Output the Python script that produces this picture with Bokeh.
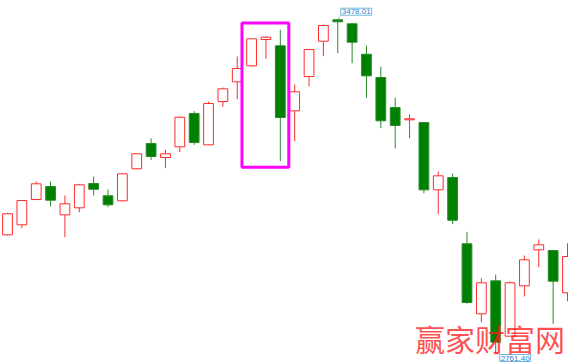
from bokeh.plotting import figure
from bokeh.models import Range1d, Label, BoxAnnotation
from bokeh.embed import file_html
from bokeh.resources import INLINE

# Daily OHLC values of the index, oldest first
opens = [3014.9, 3036.4, 3090.7, 3118.6, 3057.8, 3072.9, 3125.1, 3098.7, 3087.9, 3156.7,
         3211.0, 3180.9, 3203.9, 3275.4, 3208.2, 3301.2, 3343.5, 3377.9, 3434.4, 3420.9,
         3281.2, 3354.9, 3430.8, 3476.7, 3468.1, 3402.8, 3352.8, 3288.3, 3261.9, 3256.1,
         3111.5, 3138.0, 2995.6, 2845.2, 2916.1, 2797.1, 2905.3, 2982.7, 2981.2, 2890.3]
highs = [3062.1, 3089.5, 3129.4, 3129.4, 3099.3, 3124.4, 3140.1, 3112.2, 3148.1, 3189.5,
         3222.4, 3197.5, 3269.0, 3280.4, 3301.2, 3331.3, 3397.9, 3436.5, 3442.4, 3455.2,
         3337.7, 3414.4, 3466.6, 3478.01, 3469.4, 3421.5, 3375.8, 3309.8, 3273.3, 3256.1,
         3150.9, 3146.6, 3021.3, 2921.7, 2929.6, 2914.6, 2970.4, 3004.8, 2981.2, 2996.8]
lows = [3013.5, 3029.1, 3089.2, 3076.3, 3009.7, 3063.4, 3099.3, 3074.2, 3087.0, 3156.0,
        3176.0, 3157.9, 3192.3, 3208.2, 3207.5, 3289.8, 3306.2, 3376.4, 3393.0, 3173.0,
        3215.9, 3334.1, 3398.5, 3405.0, 3383.5, 3309.2, 3243.9, 3200.3, 3222.4, 3104.2,
        3059.1, 3037.7, 2866.7, 2827.1, 2761.40, 2796.5, 2882.3, 2945.3, 2823.7, 2872.3]
closes = [3060.0, 3088.6, 3124.4, 3089.2, 3081.5, 3122.3, 3112.8, 3079.3, 3145.9, 3188.9,
          3183.1, 3188.9, 3267.5, 3213.2, 3296.9, 3328.5, 3372.1, 3435.9, 3439.3, 3266.9,
          3322.1, 3412.9, 3464.5, 3472.4, 3428.6, 3356.4, 3259.8, 3249.7, 3264.1, 3111.5,
          3141.6, 3046.2, 2869.5, 2911.8, 2784.2, 2911.8, 2961.2, 2993.4, 2915.2, 2968.3]

# sessions framed by the highlight box (first, last)
highlight = (17, 19)
watermark = "赢家财富网"

W, H = 568, 362
x_lo, x_hi = -0.4875, 39.07
y_lo, y_hi = 2740.6, 3518.2
px_x = (x_hi - x_lo) / W
px_y = (y_hi - y_lo) / H

UP = "#ff2b2b"
DOWN_FILL = "#008000"
DOWN_LINE = "#2a8a2a"

p = figure(width=W, height=H, output_backend="svg", toolbar_location=None,
           x_range=Range1d(x_lo, x_hi), y_range=Range1d(y_lo, y_hi),
           min_border=0, x_axis_location=None, y_axis_location=None)
p.grid.visible = False
p.outline_line_color = None
p.background_fill_color = "white"
p.border_fill_color = "white"

n = len(opens)
idx = list(range(n))
up_i = [i for i in idx if closes[i] >= opens[i]]
dn_i = [i for i in idx if closes[i] < opens[i]]
body_w = 0.68

def wicks(ids, color):
    top = [max(opens[i], closes[i]) for i in ids]
    bot = [min(opens[i], closes[i]) for i in ids]
    p.segment(x0=ids, y0=top, x1=ids, y1=[highs[i] for i in ids], line_color=color, line_width=1)
    p.segment(x0=ids, y0=bot, x1=ids, y1=[lows[i] for i in ids], line_color=color, line_width=1)

wicks(up_i, UP)
wicks(dn_i, DOWN_LINE)

# rising sessions: hollow red bodies
p.vbar(x=up_i, width=body_w, top=[closes[i] for i in up_i], bottom=[opens[i] for i in up_i],
       fill_color="white", line_color=UP, line_width=1)
# falling sessions: solid green bodies
p.vbar(x=dn_i, width=body_w, top=[opens[i] for i in dn_i], bottom=[closes[i] for i in dn_i],
       fill_color=DOWN_FILL, line_color=DOWN_LINE, line_width=1)

# highlight box around the selected sessions
a, b = highlight
box_top = max(highs[a:b + 1]) + 14.5
box_bot = min(lows[a:b + 1]) - 13
p.add_layout(BoxAnnotation(left=a - 0.67, right=b + 0.59, top=box_top, bottom=box_bot,
                           fill_alpha=0, line_color="#ff00ff", line_alpha=1.0, line_width=3))

# extreme value tags
hi_i = highs.index(max(highs))
lo_i = lows.index(min(lows))
tag_style = dict(text_font="Liberation Sans", text_font_size="8px", text_color="#2c80d0",
                 border_line_color="#6fb6d8", border_line_width=1,
                 background_fill_color="white", padding=1)
p.segment(x0=[hi_i, lo_i], y0=[highs[hi_i], lows[lo_i]],
          x1=[hi_i + 3 * px_x, lo_i + 3.5 * px_x],
          y1=[highs[hi_i] + 3.5 * px_y, lows[lo_i] - 2 * px_y],
          line_color="#2a8a8a", line_width=1, line_dash="1 1")
p.add_layout(Label(x=hi_i, y=highs[hi_i], x_offset=3, y_offset=4, text=f"{highs[hi_i]:.2f}",
                   text_align="left", text_baseline="bottom", **tag_style))
# the low tag sits on the bottom edge, just right of the low wick
p.add_layout(Label(x=lo_i, y=y_lo, x_offset=4, y_offset=1, text=f"{lows[lo_i]:.2f}",
                   text_align="left", text_baseline="bottom", **tag_style))

# site watermark, drawn over the candles
p.add_layout(Label(x=x_lo + 489.5 * px_x, y=y_hi - 337.5 * px_y, text=watermark,
                   text_align="center", text_baseline="middle",
                   text_font="Noto Sans CJK SC", text_font_size="30px",
                   text_color="#ff1e1e", text_alpha=0.8))

open("out.html", "w").write(file_html(p, INLINE))
